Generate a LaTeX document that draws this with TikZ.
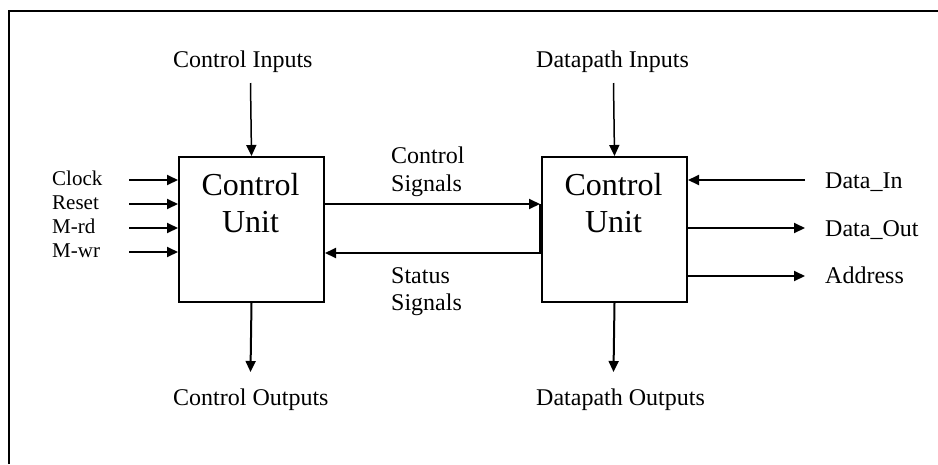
\documentclass[tikz,border=0pt]{standalone}
\usepackage{fontspec}
\setmainfont{Liberation Serif}
\usetikzlibrary{arrows.meta}
\begin{document}
\begin{tikzpicture}[x=1pt,y=-1pt,
  unitbox/.style={draw,line width=2pt,minimum width=145pt,minimum height=145pt,inner sep=0pt,anchor=north west},
  boxtext/.style={inner sep=0pt,anchor=base,font=\fontsize{32}{37}\selectfont},
  lbl/.style={inner sep=0pt,anchor=base west,font=\fontsize{24}{28}\selectfont},
  smalllbl/.style={inner sep=0pt,anchor=base west,font=\fontsize{21}{24}\selectfont},
  sig/.style={-{Triangle[length=11pt,width=10pt]},line width=2pt},
  thinsig/.style={-{Triangle[length=11pt,width=10pt]},line width=1.5pt}]
\useasboundingbox (0,0) rectangle (938,464);

% outer frame
\draw[line width=2.3pt] (9,464) |- (938,11);

% the two units
\node[unitbox] (cu) at (178,156) {};
\node[unitbox] (dp) at (541,156) {};
\node[boxtext] (cut1) at (250.5,195) {Control};
\node[boxtext] (cut2) at (250.5,232) {Unit};
\node[boxtext] (dpt1) at (613.5,195) {Control};
\node[boxtext] (dpt2) at (613.5,232) {Unit};

% inputs from above
\node[lbl] (ci) at (173,67) {Control Inputs};
\node[lbl] (di) at (536,67) {Datapath Inputs};
\coordinate (ciS) at (250.5,83);
\coordinate (diS) at (613.5,83);
\draw[thinsig] (ciS) -- (cu.north);
\draw[thinsig] (diS) -- (dp.north);

% outputs below
\coordinate (coE) at (250.5,372);
\coordinate (doE) at (613.5,372);
\draw[sig] (cu.south) -- (coE);
\draw[sig] (dp.south) -- (doE);
\node[lbl] (co) at (173,405) {Control Outputs};
\node[lbl] (do) at (536,405) {Datapath Outputs};

% control unit side inputs
\node[smalllbl] (clk) at (52,185) {Clock};
\node[smalllbl] (rst) at (52,209) {Reset};
\node[smalllbl] (mrd) at (52,233) {M-rd};
\node[smalllbl] (mwr) at (52,257) {M-wr};
\foreach \n/\y in {clk/180,rst/204,mrd/228,mwr/252}{
  \coordinate (\n S) at (129,\y);
  \draw[sig] (\n S) -- (cu.west |- 0,\y);
}

% signals between the units
\coordinate (j1) at (540,204);
\coordinate (j2) at (540,253);
\draw[sig] (cu.east |- j1) -- (j1);
\draw[sig] (j1) -- (j2) -- (cu.east |- j2);
\node[lbl] (cs1) at (391,163) {Control};
\node[lbl] (cs2) at (391,191) {Signals};
\node[lbl] (ss1) at (391,283) {Status};
\node[lbl] (ss2) at (391,310) {Signals};

% datapath side ports
\coordinate (dinS) at (805,180);
\coordinate (doutE) at (805,228);
\coordinate (addrE) at (805,276);
\draw[sig] (dinS) -- (dp.east |- dinS);
\draw[sig] (dp.east |- doutE) -- (doutE);
\draw[sig] (dp.east |- addrE) -- (addrE);
\node[lbl] (din) at (825,188) {Data\_In};
\node[lbl] (dout) at (825,236) {Data\_Out};
\node[lbl] (addr) at (825,283) {Address};
\end{tikzpicture}
\end{document}
